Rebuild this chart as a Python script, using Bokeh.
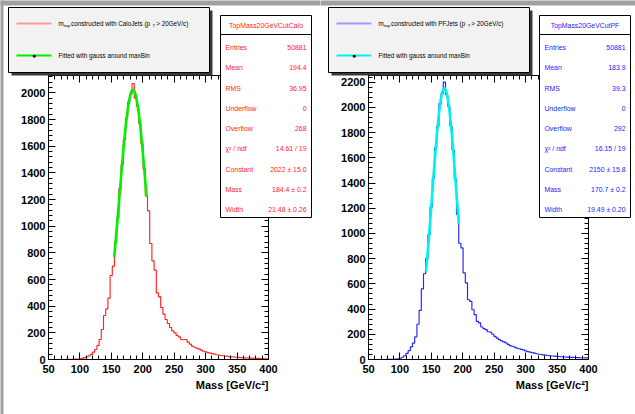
import numpy as np
from bokeh.plotting import figure
from bokeh.models import Range1d, SingleIntervalTicker, LinearAxis, Label, BoxAnnotation
from bokeh.layouts import row
from bokeh.embed import file_html
from bokeh.resources import INLINE

# ---------------- data ----------------
bin_lo, bin_hi, n_bins = 50.0, 400.0, 100

calo_counts = [0, 0, 0, 0, 0, 0, 0, 0, 1, 1,
               2, 2, 3, 4, 6, 9, 14, 20, 28, 38,
               55, 75, 105, 150, 225, 330, 380, 460, 630, 700,
               880, 1060, 1280, 1460, 1650, 1810, 1930, 1990, 2070, 1960,
               1900, 1770, 1620, 1430, 1230, 1115, 870, 740, 670, 500,
               470, 390, 340, 300, 270, 240, 215, 200, 180, 170,
               150, 148, 150, 130, 115, 100, 92, 85, 78, 70,
               62, 58, 52, 48, 44, 40, 36, 34, 30, 28,
               26, 24, 22, 20, 19, 17, 16, 14, 13, 12,
               11, 10, 10, 9, 8, 8, 7, 7, 6, 6]

pf_counts = [0, 0, 0, 0, 0, 0, 0, 0, 1, 1,
             1, 2, 3, 5, 10, 18, 30, 48, 70, 100,
             130, 180, 280, 390, 560, 680, 800, 990, 1210, 1440,
             1680, 1850, 2030, 2110, 2200, 2100, 2010, 1850, 1660, 1430,
             1150, 922, 885, 687, 608, 474, 461, 395, 356, 303,
             290, 258, 245, 237, 220, 216, 200, 184, 170, 158,
             148, 140, 132, 120, 110, 105, 98, 90, 85, 80,
             76, 68, 62, 58, 54, 50, 46, 42, 40, 37,
             35, 32, 30, 28, 27, 25, 24, 22, 21, 20,
             19, 18, 17, 16, 15, 15, 14, 14, 13, 13]

calo_stat_names = ["Entries", "Mean", "RMS", "Underflow", "Overflow",
                   "χ² / ndf", "Constant", "Mass", "Width"]
calo_stat_values = ["50881", "194.4", "36.95", "0", "268",
                    "14.61 / 19", "2022 ± 15.0", "184.4 ± 0.2", "21.48 ± 0.26"]
pf_stat_names = calo_stat_names
pf_stat_values = ["50881", "183.9", "39.3", "0", "292",
                  "16.15 / 19", "2150 ± 15.8", "170.7 ± 0.2", "19.49 ± 0.20"]

calo_fit_constant, calo_fit_mass, calo_fit_width = 2022.0, 184.4, 21.48
calo_fit_range = (154.5, 206.0)
pf_fit_constant, pf_fit_mass, pf_fit_width = 2150.0, 170.7, 19.49
pf_fit_range = (141.5, 193.6)

calo_title = "TopMass20GeVCutCalo"
pf_title = "TopMass20GeVCutPF"
calo_jets = "CaloJets"
pf_jets = "PFJets"
fit_legend = "Fitted with gauss around maxBin"
x_title = "Mass [GeV/c²]"

calo_ymax = 2130
pf_ymax = 2253

FONT = "Liberation Sans"
FL, FT, FW, FH = 48, 75, 220, 284   # pad-pixel position of the histogram frame
PAD_H = 414


def make_pad(counts, hist_color, legend_color, fc, fm, fw, frange, fit_color, names, values,
             title, jets, ymax, pad_w, box_l, box_r, t_x, left_strip):
    sx = (bin_hi - bin_lo) / FW
    sy = ymax / FH

    def X(px):
        return bin_lo + (px - FL) * sx

    def Y(py):
        return (FT + FH - py) * sy

    p = figure(x_range=Range1d(X(0), X(pad_w)), y_range=Range1d(Y(PAD_H), Y(0)),
               frame_width=pad_w, frame_height=PAD_H, min_border=0,
               output_backend="svg", toolbar_location=None, title=None,
               x_axis_type=None, y_axis_type=None)
    p.outline_line_color = None
    p.background_fill_color = "white"
    p.border_fill_color = "white"

    def style(ax, labels=True):
        ax.major_tick_in = 7
        ax.major_tick_out = 0
        ax.minor_tick_in = 4
        ax.minor_tick_out = 0
        ax.axis_line_color = "black"
        ax.major_tick_line_color = "black"
        ax.minor_tick_line_color = "black"
        ax.major_label_text_font = FONT
        ax.major_label_text_font_style = "bold"
        ax.major_label_text_font_size = "11px"
        ax.major_label_text_color = "black" if labels else None

    xb = LinearAxis(ticker=SingleIntervalTicker(interval=50, num_minor_ticks=5),
                    fixed_location=0, bounds=(bin_lo, bin_hi))
    style(xb)
    xb.major_label_standoff = 5
    p.add_layout(xb, "below")
    xt = LinearAxis(ticker=SingleIntervalTicker(interval=50, num_minor_ticks=5),
                    fixed_location=ymax, bounds=(bin_lo, bin_hi))
    style(xt, False)
    p.add_layout(xt, "above")
    yl = LinearAxis(ticker=SingleIntervalTicker(interval=200, num_minor_ticks=5),
                    fixed_location=bin_lo, bounds=(0, ymax))
    style(yl)
    yl.major_label_standoff = 3
    p.add_layout(yl, "left")
    yr = LinearAxis(ticker=SingleIntervalTicker(interval=200, num_minor_ticks=5),
                    fixed_location=bin_hi, bounds=(0, ymax))
    style(yr, False)
    p.add_layout(yr, "right")

    edges = np.linspace(bin_lo, bin_hi, n_bins + 1)
    ys = list(counts) + [counts[-1]]
    p.step(x=edges, y=ys, mode="after", line_color=hist_color, line_width=1.15)

    xs = np.linspace(frange[0], frange[1], 150)
    p.line(xs, fc * np.exp(-0.5 * ((xs - fm) / fw) ** 2), line_color=fit_color,
           line_width=2.6)

    # x axis title
    p.add_layout(Label(x=bin_hi, y=0, y_offset=-19, text=x_title, text_align="right",
                       text_baseline="top", text_font=FONT, text_font_style="bold",
                       text_font_size="11px", text_color="black"))

    def box(l, r, t, b, fill, line="black", lw=1):
        p.add_layout(BoxAnnotation(left=X(l), right=X(r), top=Y(t), bottom=Y(b),
                                   fill_color=fill if fill else "white",
                                   fill_alpha=1 if fill else 0,
                                   line_color=line if line else "black",
                                   line_alpha=1 if line else 0,
                                   line_width=lw, level="overlay"))

    def text(px, py, s, size, color="black", align="left", style="normal"):
        p.add_layout(Label(x=X(px), y=Y(py), text=s, text_font=FONT, text_font_size=size,
                           text_color=color, text_align=align, text_baseline="middle",
                           text_font_style=style, level="overlay"))

    # window frame strips
    box(-2, pad_w + 2, -2, 5, "#a0a0a0", None)
    if left_strip:
        box(-2, 3, -2, PAD_H + 2, "#a0a0a0", None)

    # legend
    box(11, 212, 10, 75, "#3a3a3a", None)
    box(8, 209, 7, 72, "#f2f2f2", "black")
    box(16, 51, 22, 24, legend_color, None)
    text(58, 23, "m", "6.3px")
    text(63.5, 25, "top", "4.4px")
    text(70.5, 23, " constructed with " + jets + " (p", "6.3px")
    text(t_x, 25, "T", "4.4px")
    text(t_x + 3.6, 23, " > 20GeV/c)", "6.3px")
    box(16, 51, 54, 56, fit_color, None)
    text(33.5, 55, "●", "7px", align="center")
    text(58, 55, fit_legend, "6.3px")

    # stats box
    box(box_l, box_r, 15, 217, "white", "black")
    box(box_l, box_r, 34, 34, None, "black")
    text((box_l + box_r) / 2, 25, title, "6.9px", hist_color, "center")
    for k, (n, v) in enumerate(zip(names, values)):
        yy = 47 + 20.25 * k
        text(box_l + 5, yy, n, "6.9px", hist_color, "left")
        text(box_r - 5, yy, v, "6.9px", hist_color, "right")
    return p


p1 = make_pad(calo_counts, "#ff2424", "#ff9a9a", calo_fit_constant, calo_fit_mass,
              calo_fit_width, calo_fit_range, "#00f000", calo_stat_names, calo_stat_values,
              calo_title, calo_jets, calo_ymax, 320, 220, 311, 152.1, True)
p2 = make_pad(pf_counts, "#2424ff", "#9a9aff", pf_fit_constant, pf_fit_mass,
              pf_fit_width, pf_fit_range, "#00f0f0", pf_stat_names, pf_stat_values,
              pf_title, pf_jets, pf_ymax, 315, 219, 310, 147.2, False)

layout = row(p1, p2)
open("out.html", "w").write(file_html(layout, INLINE))
